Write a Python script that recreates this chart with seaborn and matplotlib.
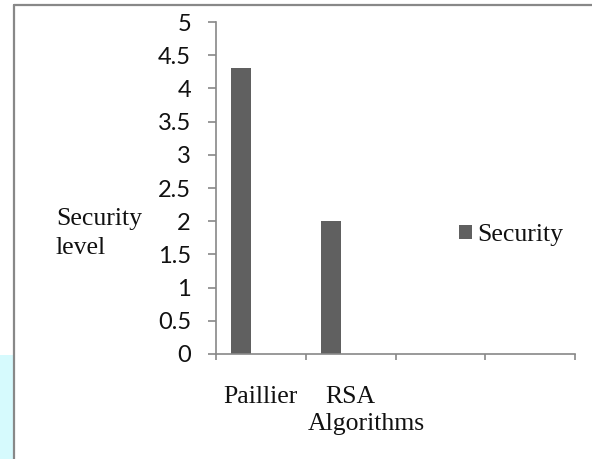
import matplotlib
matplotlib.use("Agg")
import matplotlib.pyplot as plt
import seaborn as sns
import pandas as pd
import numpy as np
from matplotlib.lines import Line2D
from matplotlib.patches import Rectangle
from matplotlib.ticker import FuncFormatter, FixedLocator

# ---- data ----
categories = ["Paillier", "RSA", " ", "  "]
series_names = ["Security", "Series2", "Series3"]
security_values = [4.3, 2.0, 0.0, 0.0]
y_ticks = [0, 0.5, 1, 1.5, 2, 2.5, 3, 3.5, 4, 4.5, 5]

df = pd.DataFrame({
    "Algorithm": categories[:2],
    "Series": ["Security"] * 2,
    "Value": security_values[:2],
})

sns.set_theme(style="white")
plt.rcParams["font.family"] = ["DejaVu Sans"]

SERIF = ["Liberation Serif", "DejaVu Serif"]
SANS = ["Lato", "DejaVu Sans"]
GRAY = "#888888"
BAR = "#606060"

fig = plt.figure(figsize=(5.92, 4.59), dpi=100)
W, H = 592, 459
ax = fig.add_axes([216 / W, 1 - 354 / H, (575 - 216) / W, (354 - 22) / H])

sns.barplot(data=df, x="Algorithm", y="Value", hue="Series",
            order=categories, hue_order=series_names,
            palette={"Security": BAR, "Series2": BAR, "Series3": BAR},
            width=0.667, dodge=True, saturation=1, legend=False, ax=ax,
            linewidth=0)

ax.set_xlim(-0.5, len(categories) - 0.5)
ax.set_ylim(0, 5)
ax.set_yticks(y_ticks)
ax.yaxis.set_major_formatter(FuncFormatter(lambda v, p: f"{v:g}"))
for lab in ax.get_yticklabels():
    lab.set_fontfamily(SANS)
    lab.set_fontsize(17)
    lab.set_color("#111111")
ax.tick_params(axis="y", which="major", direction="out", length=6, width=1.2,
               color=GRAY, pad=12, left=True)

# x: labels at category centres, ticks at category boundaries
ax.set_xticks(range(len(categories)))
ax.set_xticklabels(categories, fontfamily=SERIF, fontsize=18.5, color="#111111")
ax.tick_params(axis="x", which="major", length=0, pad=23)
ax.xaxis.set_minor_locator(FixedLocator(np.arange(-0.5, len(categories), 1.0)))
ax.tick_params(axis="x", which="minor", direction="out", length=4, width=1.2,
               color=GRAY, bottom=True)

for s in ["top", "right"]:
    ax.spines[s].set_visible(False)
for s in ["left", "bottom"]:
    ax.spines[s].set_color(GRAY)
    ax.spines[s].set_linewidth(1.2)

ax.set_xlabel("Algorithms", fontfamily=SERIF, fontsize=18.5, color="#111111")
ax.xaxis.label.set_va("center")
ax.xaxis.set_label_coords(0.418, -0.21)
ax.set_ylabel("Security\nlevel", fontfamily=SERIF, fontsize=18.5, color="#111111",
              rotation=0, ha="left", va="center", multialignment="left",
              linespacing=1.4)
ax.yaxis.set_label_coords(-0.446, 0.364)

bars = [p for p in ax.patches]
leg = fig.legend(handles=[bars[0]], labels=["Security"], loc="center left",
                 bbox_to_anchor=(459 / W, 1 - 235 / H), frameon=False,
                 prop={"family": SERIF, "size": 18.5}, handlelength=0.5,
                 handleheight=0.5, handletextpad=0.2, borderpad=0,
                 borderaxespad=0)
for t in leg.get_texts():
    t.set_color("#111111")

# page decoration: frame lines and light cyan strip
fig.add_artist(Line2D([14 / W, 14 / W], [0, 1 - 5 / H], color=GRAY, lw=1.6,
                      transform=fig.transFigure))
fig.add_artist(Line2D([14 / W, 1], [1 - 5 / H, 1 - 5 / H], color=GRAY, lw=1.6,
                      transform=fig.transFigure))
fig.add_artist(Rectangle((0, 0), 13 / W, (459 - 355) / H, color="#d6fafd",
                         transform=fig.transFigure, lw=0, zorder=-1))

fig.savefig("out.png", dpi=100)
